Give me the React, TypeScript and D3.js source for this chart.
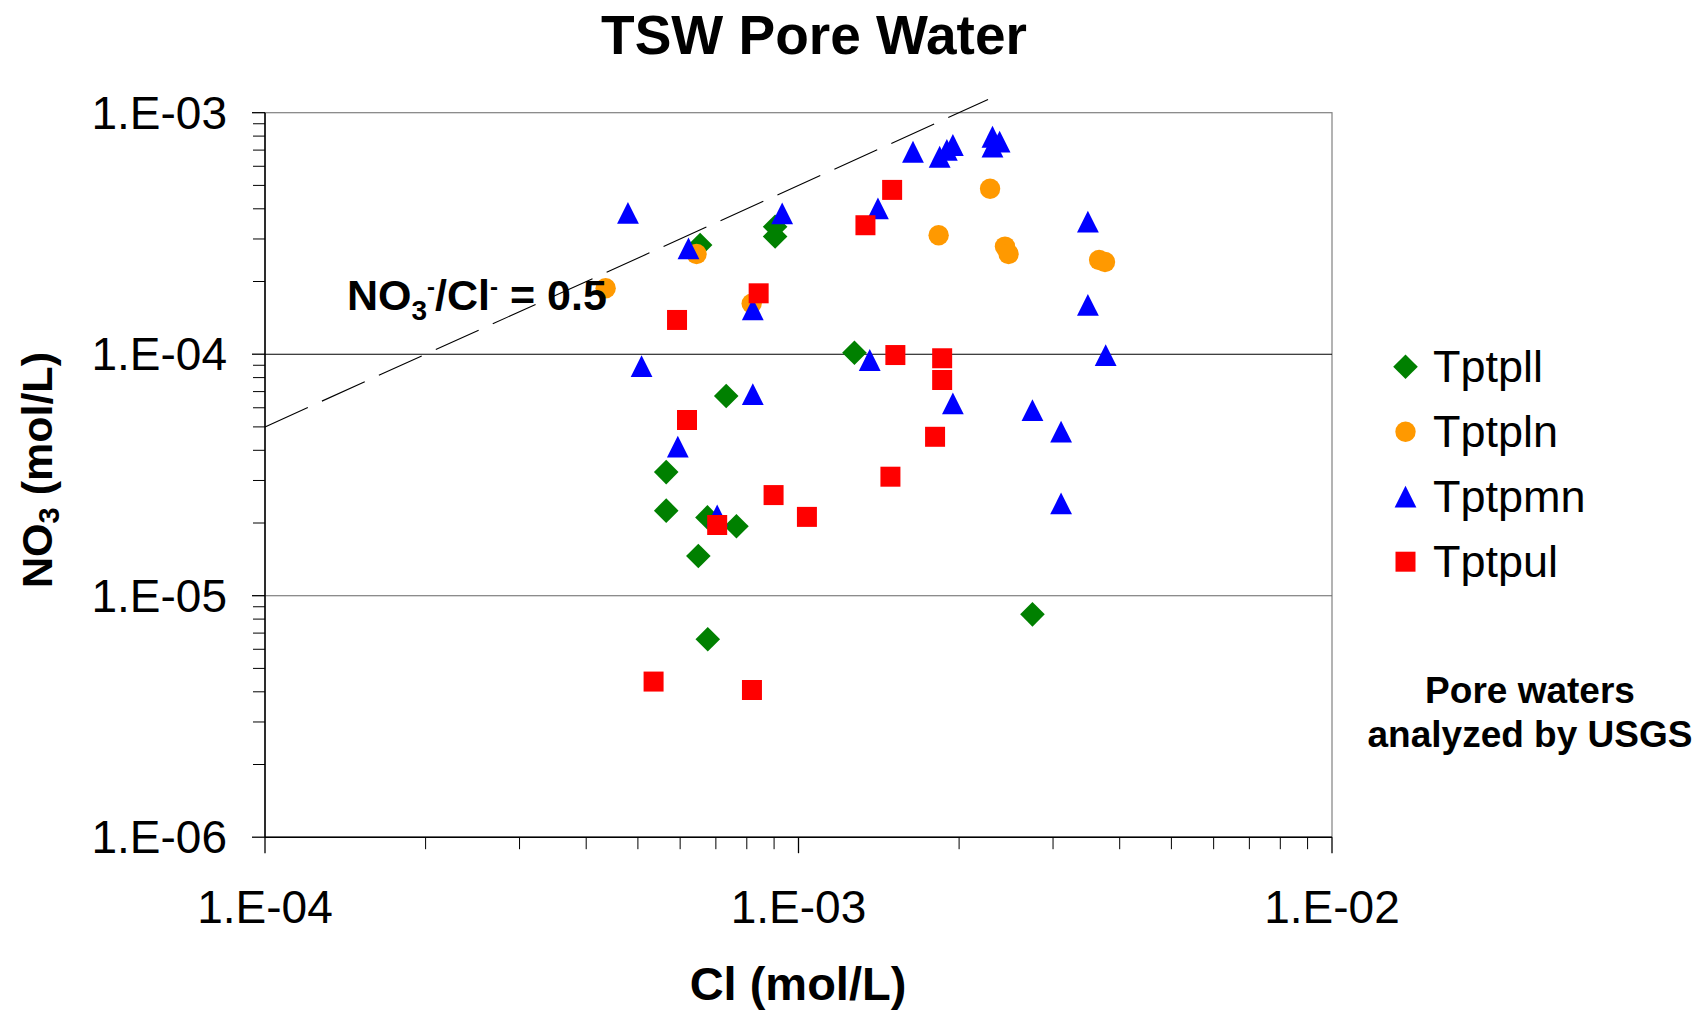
import React from "react";
import * as d3 from "d3";

// ---- data (Cl, NO3 in mol/L) ----
const tptpllCl = [6.54e-4, 9.04e-4, 9.04e-4, 7.32e-4, 5.65e-4, 5.65e-4, 6.75e-4, 7.65e-4, 6.49e-4, 6.76e-4, 1.273e-3, 2.745e-3];
const tptpllNO3 = [2.83e-4, 3.37e-4, 3.07e-4, 6.71e-5, 3.25e-5, 2.25e-5, 2.11e-5, 1.94e-5, 1.46e-5, 6.6e-6, 1.014e-4, 8.37e-6];

const tptplnCl = [6.44e-4, 4.35e-4, 8.17e-4, 2.286e-3, 1.831e-3, 2.438e-3, 2.476e-3, 3.66e-3, 3.754e-3];
const tptplnNO3 = [2.6e-4, 1.875e-4, 1.62e-4, 4.84e-4, 3.11e-4, 2.79e-4, 2.6e-4, 2.455e-4, 2.41e-4];

const tptpmnCl = [4.79e-4, 6.22e-4, 9.32e-4, 8.21e-4, 5.08e-4, 8.21e-4, 5.94e-4, 7.04e-4, 1.639e-3, 1.839e-3, 1.897e-3, 1.947e-3, 2.31e-3, 2.31e-3, 2.382e-3, 1.409e-3, 3.487e-3, 3.487e-3, 3.765e-3, 1.36e-3, 1.947e-3, 2.745e-3, 3.106e-3, 3.106e-3];
const tptpmnNO3 = [3.85e-4, 2.745e-4, 3.83e-4, 1.535e-4, 8.93e-5, 6.84e-5, 4.14e-5, 2.15e-5, 6.89e-4, 6.57e-4, 7.01e-4, 7.35e-4, 7.95e-4, 7.23e-4, 7.59e-4, 4.02e-4, 3.54e-4, 1.6e-4, 9.92e-5, 9.46e-5, 6.26e-5, 5.87e-5, 4.78e-5, 2.41e-5];

const tptpulCl = [5.92e-4, 8.42e-4, 6.18e-4, 7.04e-4, 8.98e-4, 1.037e-3, 5.35e-4, 8.18e-4, 1.498e-3, 1.335e-3, 1.519e-3, 1.859e-3, 1.859e-3, 1.803e-3, 1.487e-3];
const tptpulNO3 = [1.386e-4, 1.787e-4, 5.34e-5, 1.962e-5, 2.61e-5, 2.12e-5, 4.41e-6, 4.07e-6, 4.79e-4, 3.42e-4, 9.92e-5, 9.62e-5, 7.82e-5, 4.55e-5, 3.11e-5];

const seriesNames = ["Tptpll", "Tptpln", "Tptpmn", "Tptpul"];
const seriesColors = ["#008000", "#FF9900", "#0000FF", "#FF0000"];
const seriesShapes = ["diamond", "circle", "triangle", "square"];
const seriesCl = [tptpllCl, tptplnCl, tptpmnCl, tptpulCl];
const seriesNO3 = [tptpllNO3, tptplnNO3, tptpmnNO3, tptpulNO3];

const xTickValues = [1e-4, 1e-3, 1e-2];
const xTickLabels = ["1.E-04", "1.E-03", "1.E-02"];
const yTickValues = [1e-6, 1e-5, 1e-4, 1e-3];
const yTickLabels = ["1.E-06", "1.E-05", "1.E-04", "1.E-03"];
const gridValues = [1e-5, 1e-4];
const gridColors = ["#666666", "#000000"];

const ratioLineCl = [1e-4, 2.266e-3];
const ratioValue = 0.5;

const FONT = "'Liberation Sans', Arial, Helvetica, sans-serif";

function minorTicks(lo: number, hi: number) {
  const out: number[] = [];
  for (let e = Math.round(Math.log10(lo)); e < Math.round(Math.log10(hi)); e++) {
    for (let m = 2; m <= 9; m++) out.push(m * Math.pow(10, e));
  }
  return out;
}

function markerPath(shape: string) {
  switch (shape) {
    case "diamond": {
      const r = 12.3;
      return `M0,${-r}L${r},0L0,${r}L${-r},0Z`;
    }
    case "square": {
      const r = 10;
      return `M${-r},${-r}H${r}V${r}H${-r}Z`;
    }
    case "triangle": {
      const r = 10.9;
      return `M0,${-r}L${r},${r}L${-r},${r}Z`;
    }
    default:
      return d3.symbol(d3.symbolCircle, Math.PI * 10.2 * 10.2)() as string;
  }
}

export default function App() {
  const W = 1698;
  const H = 1012;
  const left = 265, right = 1332, top = 112.7, bottom = 837.2;
  const x = d3.scaleLog().domain([1e-4, 1e-2]).range([left, right]);
  const y = d3.scaleLog().domain([1e-6, 1e-3]).range([bottom, top]);

  const xMinor = minorTicks(1e-4, 1e-2);
  const yMinor = minorTicks(1e-6, 1e-3);

  const line = d3
    .line<number>()
    .x((d) => x(d))
    .y((d) => y(d * ratioValue));

  const legendX = 1405.5;
  const legendTextX = 1433;
  const legendBase = 381.7;
  const legendStep = 65;

  return (
    <svg
      width={W}
      height={H}
      style={{ position: "absolute", left: 0, top: 0, display: "block", background: "#fff" }}
      fontFamily={FONT}
    >
      <rect x={0} y={0} width={W} height={H} fill="#fff" />
      {/* title */}
      <text x={814} y={54} fontSize={55} fontWeight="bold" textAnchor="middle" fill="#000">
        TSW Pore Water
      </text>

      {/* plot area border */}
      <rect x={left} y={top} width={right - left} height={bottom - top} fill="none" stroke="#808080" strokeWidth={1.2} />

      {/* gridlines */}
      {gridValues.map((v, i) => (
        <line key={"g" + i} x1={left} x2={right} y1={y(v)} y2={y(v)} stroke={gridColors[i]} strokeWidth={1.1} />
      ))}

      {/* y axis */}
      <line x1={left} x2={left} y1={top} y2={bottom} stroke="#000" strokeWidth={1.5} />
      {yTickValues.map((v, i) => (
        <line key={"ym" + i} x1={left - 13} x2={left} y1={y(v)} y2={y(v)} stroke="#000" strokeWidth={1.3} />
      ))}
      {yMinor.map((v, i) => (
        <line key={"yn" + i} x1={left - 12} x2={left} y1={y(v)} y2={y(v)} stroke="#000" strokeWidth={1} />
      ))}
      {yTickValues.map((v, i) => (
        <text key={"yl" + i} x={227} y={y(v) + 16} fontSize={46} textAnchor="end" fill="#000">
          {yTickLabels[i]}
        </text>
      ))}

      {/* x axis */}
      <line x1={left} x2={right} y1={bottom} y2={bottom} stroke="#000" strokeWidth={1.5} />
      {xTickValues.map((v, i) => (
        <line key={"xm" + i} x1={x(v)} x2={x(v)} y1={bottom} y2={bottom + 16} stroke="#000" strokeWidth={1.3} />
      ))}
      {xMinor.map((v, i) => (
        <line key={"xn" + i} x1={x(v)} x2={x(v)} y1={bottom} y2={bottom + 12} stroke="#000" strokeWidth={1} />
      ))}
      {xTickValues.map((v, i) => (
        <text key={"xl" + i} x={x(v)} y={923} fontSize={46} textAnchor="middle" fill="#000">
          {xTickLabels[i]}
        </text>
      ))}

      {/* axis titles */}
      <text x={798} y={1000} fontSize={47} fontWeight="bold" textAnchor="middle" fill="#000">
        Cl (mol/L)
      </text>
      <text
        transform="translate(52,470) rotate(-90)"
        fontSize={43}
        fontWeight="bold"
        textAnchor="middle"
        fill="#000"
      >
        NO
        <tspan fontSize={29} dy={7}>3</tspan>
        <tspan dy={-7}> (mol/L)</tspan>
      </text>

      {/* ratio line */}
      <path d={line(ratioLineCl) as string} fill="none" stroke="#000" strokeWidth={1.1} strokeDasharray="47 15.5" />

      {/* series */}
      {seriesNames.map((name, si) => (
        <g key={name} fill={seriesColors[si]}>
          {seriesCl[si].map((c, i) => (
            <path
              key={i}
              d={markerPath(seriesShapes[si])}
              transform={`translate(${x(c)},${y(seriesNO3[si][i])})`}
            />
          ))}
        </g>
      ))}

      {/* ratio annotation */}
      <text x={347} y={310} fontSize={43} fontWeight="bold" fill="#000">
        NO
        <tspan fontSize={28} dy={10}>3</tspan>
        <tspan fontSize={24} dy={-25}>-</tspan>
        <tspan dy={15}>/Cl</tspan>
        <tspan fontSize={24} dy={-15}>-</tspan>
        <tspan dy={15}> = 0.5</tspan>
      </text>

      {/* legend */}
      {seriesNames.map((name, si) => (
        <g key={"leg" + name}>
          <path
            d={markerPath(seriesShapes[si])}
            fill={seriesColors[si]}
            transform={`translate(${legendX},${legendBase + si * legendStep - 15})`}
          />
          <text x={legendTextX} y={legendBase + si * legendStep} fontSize={45} fill="#000">
            {name}
          </text>
        </g>
      ))}

      {/* note */}
      <text x={1530} y={703} fontSize={37} fontWeight="bold" textAnchor="middle" fill="#000">
        Pore waters
      </text>
      <text x={1530} y={747} fontSize={37} fontWeight="bold" textAnchor="middle" fill="#000">
        analyzed by USGS
      </text>
    </svg>
  );
}
